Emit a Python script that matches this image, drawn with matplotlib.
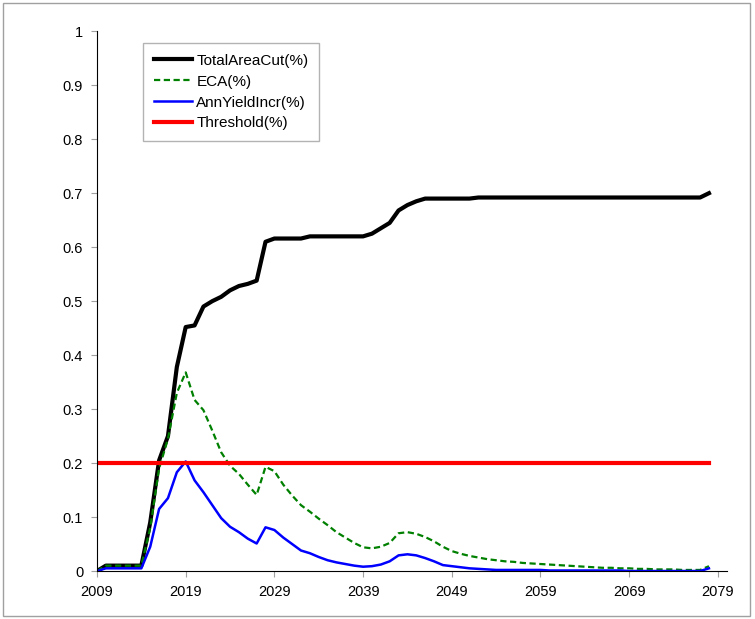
import matplotlib.pyplot as plt
import matplotlib.patches as patches
import numpy as np

plt.rcParams['font.family'] = ['Liberation Sans', 'DejaVu Sans']

# data, one value per year 2009..2078
years = np.arange(2009, 2079)

total_area_cut = [0.0, 0.01, 0.01, 0.01, 0.01, 0.01, 0.09, 0.205, 0.25, 0.378,
                  0.452, 0.455, 0.49, 0.50, 0.508, 0.52, 0.528, 0.532, 0.538, 0.61,
                  0.616, 0.616, 0.616, 0.616, 0.62, 0.62, 0.62, 0.62, 0.62, 0.62,
                  0.62, 0.625, 0.635, 0.645, 0.668, 0.678, 0.685, 0.69, 0.69, 0.69,
                  0.69, 0.69, 0.69, 0.692, 0.692, 0.692, 0.692, 0.692, 0.692, 0.692,
                  0.692, 0.692, 0.692, 0.692, 0.692, 0.692, 0.692, 0.692, 0.692, 0.692,
                  0.692, 0.692, 0.692, 0.692, 0.692, 0.692, 0.692, 0.692, 0.692, 0.70]

eca = [0.0, 0.01, 0.01, 0.01, 0.01, 0.01, 0.08, 0.19, 0.245, 0.33,
       0.368, 0.317, 0.298, 0.26, 0.22, 0.195, 0.18, 0.16, 0.141, 0.193,
       0.185, 0.16, 0.14, 0.122, 0.11, 0.097, 0.085, 0.072, 0.062, 0.052,
       0.044, 0.042, 0.045, 0.052, 0.070, 0.072, 0.069, 0.063, 0.055, 0.045,
       0.037, 0.032, 0.028, 0.025, 0.022, 0.020, 0.018, 0.017, 0.015, 0.014,
       0.013, 0.012, 0.011, 0.010, 0.009, 0.008, 0.007, 0.006, 0.006, 0.005,
       0.005, 0.004, 0.004, 0.003, 0.003, 0.003, 0.002, 0.002, 0.002, 0.009]

ann_yield_incr = [0.0, 0.005, 0.005, 0.005, 0.005, 0.005, 0.045, 0.115, 0.135, 0.183,
                  0.203, 0.168, 0.146, 0.122, 0.098, 0.082, 0.072, 0.06, 0.051, 0.081,
                  0.076, 0.062, 0.05, 0.038, 0.033, 0.026, 0.02, 0.016, 0.013, 0.01,
                  0.008, 0.009, 0.012, 0.018, 0.029, 0.031, 0.029, 0.024, 0.018, 0.011,
                  0.009, 0.007, 0.005, 0.004, 0.003, 0.002, 0.002, 0.002, 0.002, 0.002,
                  0.002, 0.001, 0.001, 0.001, 0.001, 0.001, 0.001, 0.001, 0.001, 0.001,
                  0.0, 0.0, 0.0, 0.0, 0.0, 0.0, 0.0, 0.0, 0.0, 0.005]

threshold = [0.2] * len(years)

fig = plt.figure(figsize=(7.55, 6.19), dpi=100)
# chart area border
fig.patches.append(patches.Rectangle((0.004, 0.005), 0.99, 0.99, transform=fig.transFigure,
                                     fill=False, edgecolor='#a0a0a0', linewidth=1))
ax = fig.add_axes([0.1285, 0.0775, 0.834, 0.872])

ax.plot(years, total_area_cut, color='black', linewidth=3.0, label='TotalAreaCut(%)')
ax.plot(years, eca, color='green', linewidth=1.6, linestyle=(0, (2.8, 1.6)), label='ECA(%)')
ax.plot(years, ann_yield_incr, color='blue', linewidth=1.8, label='AnnYieldIncr(%)')
ax.plot(years, threshold, color='red', linewidth=3.0, label='Threshold(%)')

ax.set_xlim(2009, 2080)
ax.set_ylim(0, 1)
ax.set_xticks(np.arange(2009, 2080, 10))
ax.set_yticks(np.arange(0, 1.01, 0.1))
ax.set_yticklabels(['0', '0.1', '0.2', '0.3', '0.4', '0.5', '0.6', '0.7', '0.8', '0.9', '1'])

for s in ['top', 'right']:
    ax.spines[s].set_visible(False)
ax.spines['left'].set_color('black')
ax.spines['bottom'].set_color('black')
ax.tick_params(axis='both', direction='out', length=4, color='#a0a0a0', labelsize=10.5, pad=6)

leg = ax.legend(loc='upper left', bbox_to_anchor=(0.073, 0.978), borderaxespad=0,
                fancybox=False, edgecolor='#a0a0a0', fontsize=11, handlelength=2.5,
                handletextpad=0.3, labelspacing=0.45, borderpad=0.7)
leg.get_frame().set_linewidth(1)

fig.savefig('out.png', dpi=100)
